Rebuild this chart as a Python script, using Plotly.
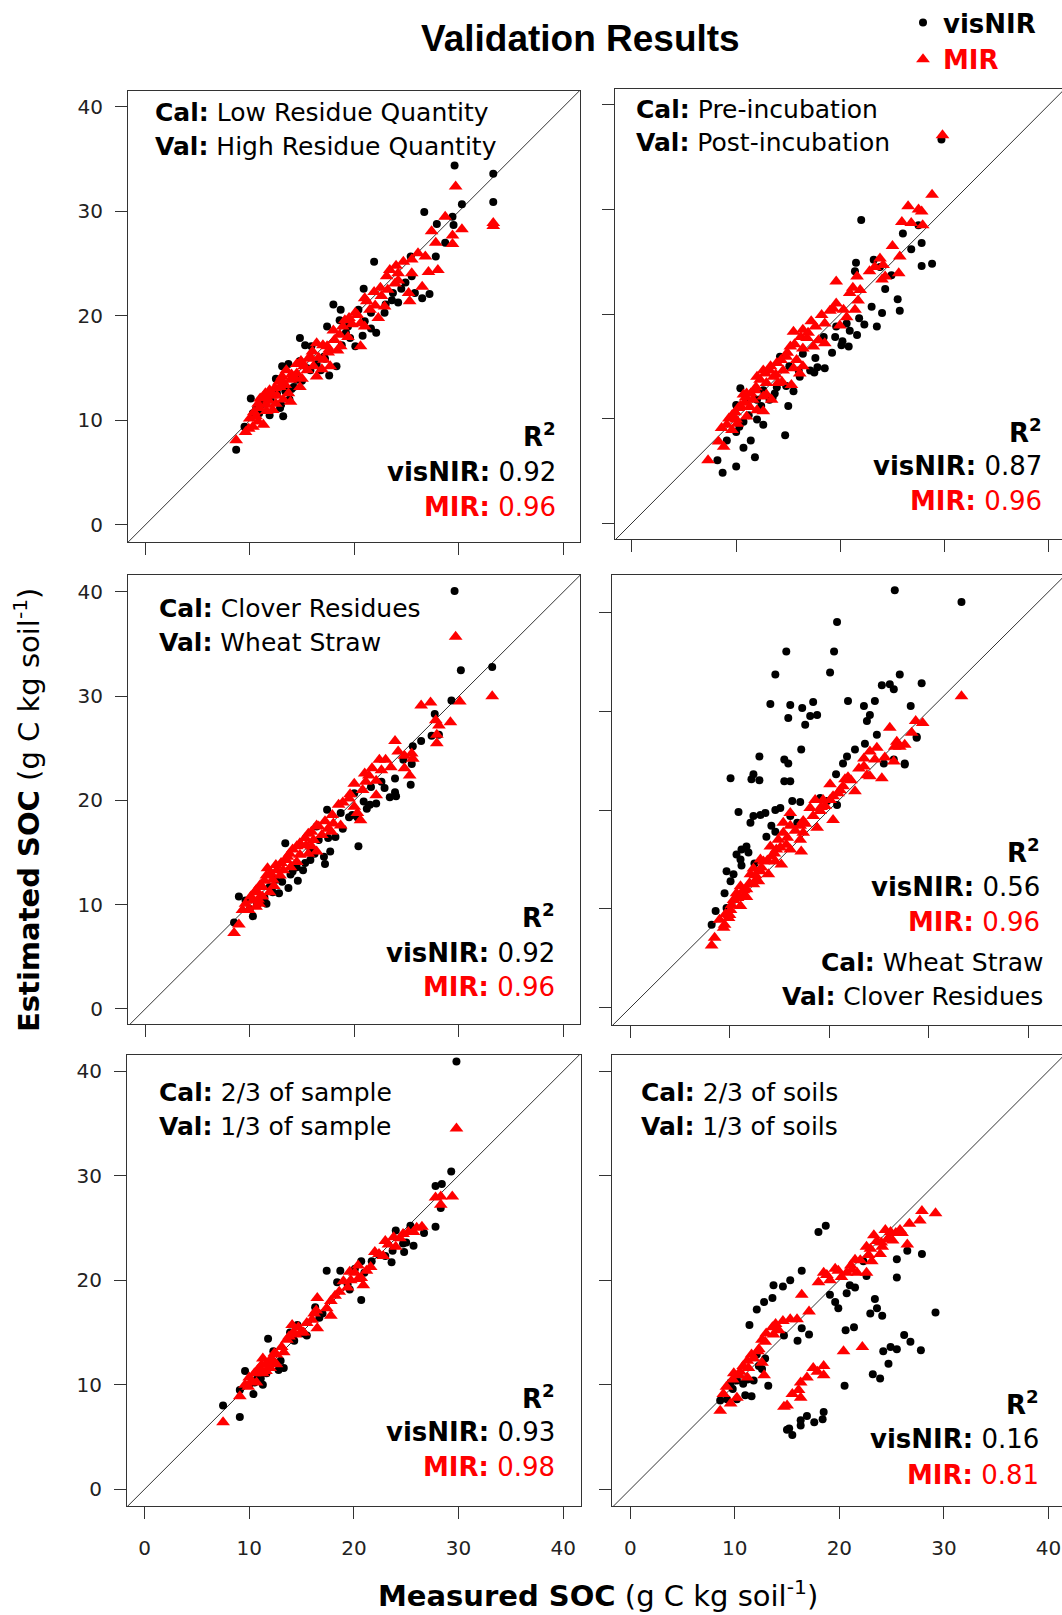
import plotly.graph_objects as go

# ---------------- data: (measured SOC, estimated SOC) ----------------
# Panel 1: Cal Low residue quantity / Val High residue quantity
p1_vis = [(29.6,34.4),(33.3,33.6),(33.3,30.9),(30.3,30.7),(26.7,29.95),(29.4,29.5),(27.9,28.8),(29.5,28.7),
          (28.7,27.0),(27.8,25.7),(25.4,25.7),(21.9,25.2),(20.9,22.6),(27.2,22.1),(26.5,21.7),(24.9,23.2),
          (24.2,21.3),(23.6,21.5),(22.9,20.3),(18.0,21.1),(18.7,20.6),(20.4,20.6),(18.6,19.6),(17.4,19.0),
          (22.1,18.4),(21.6,18.8),(20.8,18.1),(19.6,17.9),(20.1,17.1),(14.8,17.9),(15.3,17.2),(15.9,17.1),
          (14.8,15.7),(17.6,14.3),(18.3,15.2),(13.1,15.2),(13.7,15.4),(12.5,14.0),(10.1,12.1),(10.3,10.7),
          (13.2,10.4),(11.9,10.5),(13.8,12.0),(11.3,11.6),(9.5,9.4),(8.7,7.2),(16.4,15.4),(15.8,14.8),
          (14.5,13.9),(12.6,12.6),(11.6,12.4),(17.1,16.1),(19.4,19.0),(25.5,23.8),(25.8,22.2),(23.7,22.2),
          (21.6,20.3),(14.2,13.2),(10.9,10.7),(13.0,11.5),(10.6,11.1),(11.1,11.8),(12.0,12.0),(12.9,11.2),
          (13.4,12.8),(14.0,13.0),(15.0,13.8),(15.5,15.0),(16.8,14.8),(17.2,15.9),(18.8,17.2),(19.2,18.4),
          (21.0,19.5),(23.0,21.1),(24.5,22.6)]
p1_mir = [(29.7,32.4),(33.3,28.9),(33.3,28.6),(28.7,29.5),(30.3,28.3),(29.4,27.7),(29.4,26.9),(27.4,28.1),
          (27.8,27.0),(26.1,26.0),(26.8,25.7),(24.7,25.2),(25.5,25.4),(23.4,24.4),(23.1,23.8),(24.2,23.4),
          (25.5,24.1),(25.2,22.2),(25.3,21.4),(26.5,22.8),(27.1,24.2),(28.0,24.4),(21.9,22.3),(21.0,21.7),
          (22.6,21.9),(22.9,20.9),(22.3,19.8),(21.5,20.6),(20.3,20.1),(19.5,19.8),(18.9,19.0),(19.4,18.0),
          (20.6,17.1),(18.1,17.7),(18.4,16.7),(17.4,17.1),(16.4,17.4),(17.1,15.8),(17.7,15.2),(15.8,16.1),
          (15.5,14.8),(16.4,14.2),(14.5,14.5),(14.8,13.2),(13.9,13.9),(13.5,14.8),(12.9,13.2),(12.6,12.4),
          (11.9,12.9),(11.3,12.3),(11.6,11.5),(10.9,11.2),(10.6,10.4),(12.2,11.0),(13.2,12.0),(13.9,11.8),
          (11.3,9.6),(10.3,9.4),(9.6,8.9),(8.7,8.1),(14.5,15.4),(16.1,15.2),(18.7,17.1),(21.0,19.0),
          (23.9,23.1),(24.2,24.1),(10.0,10.2),(10.4,10.8),(10.8,11.6),(11.0,12.1),(11.5,12.6),(11.8,11.9),
          (12.1,12.4),(12.4,13.1),(12.8,13.7),(13.1,14.2),(13.4,13.4),(13.7,12.6),(14.0,14.4),(14.3,14.1),
          (14.9,15.7),(15.2,15.2),(15.6,15.9),(16.0,16.6),(16.6,16.0),(17.0,17.2),(17.5,16.5),(18.0,18.6),
          (18.6,18.2),(19.1,19.6),(19.8,19.2),(20.1,20.3),(20.6,19.3),(21.2,21.4),(22.0,21.0),(22.5,22.7),
          (23.2,22.5),(24.0,24.8),(9.9,9.2),(10.8,9.9),(11.6,10.9),(12.5,11.6),(13.0,13.9),(15.0,14.0),
          (16.9,14.9),(17.6,16.8)]

# Panel 2: Cal Pre-incubation / Val Post-incubation
p2_vis = [(29.7,36.7),(22.0,29.0),(28.8,24.8),(27.8,24.6),(27.8,26.8),(26.8,26.2),(26.0,27.7),(27.5,28.5),
          (21.5,24.9),(21.4,24.1),(25.5,21.4),(25.7,20.3),(24.0,20.1),(23.0,20.7),(23.5,18.8),(24.3,22.4),
          (24.9,23.7),(21.8,19.6),(21.6,18.0),(20.8,16.9),(20.1,17.0),(19.5,17.8),(20.9,18.4),(18.4,17.8),
          (18.5,14.8),(17.5,14.4),(17.1,14.6),(17.6,15.8),(16.4,16.2),(15.0,11.2),(14.7,8.4),(13.9,13.0),
          (13.7,12.4),(13.2,11.8),(12.6,9.4),(12.0,9.9),(11.4,7.9),(11.8,6.3),(10.7,7.2),(10.0,5.4),
          (8.7,4.8),(8.2,6.0),(9.1,7.9),(10.0,8.7),(10.4,12.9),(10.0,11.3),(11.0,11.8),(9.7,10.2),
          (10.7,9.7),(14.2,15.9),(15.1,15.0),(16.0,14.6),(12.6,12.7),(12.0,11.8),(20.6,19.1),(19.6,18.8),
          (23.2,25.2),(23.8,24.5),(12.4,11.2),(13.5,12.0),(14.8,13.1),(16.1,14.0),(17.8,14.9),(19.2,16.3),
          (20.2,17.4),(22.3,19.0),(11.2,10.3),(10.3,9.2),(15.5,12.6)]
p2_mir = [(29.8,37.1),(28.8,31.4),(26.5,30.3),(27.5,30.0),(27.8,29.8),(25.9,28.8),(26.8,28.7),(27.9,28.5),
          (25.0,26.5),(25.7,25.5),(23.8,25.3),(23.3,24.5),(24.1,24.7),(22.8,24.1),(24.3,23.6),(25.6,23.9),
          (24.0,23.3),(21.6,23.6),(19.6,23.1),(21.2,22.5),(21.9,22.3),(20.9,22.0),(21.7,21.3),(19.6,21.0),
          (19.3,20.5),(20.3,20.4),(21.4,20.4),(20.6,19.7),(19.95,18.9),(17.2,19.3),(18.5,19.1),(16.4,18.5),
          (15.5,18.3),(16.8,17.7),(17.9,17.5),(18.5,17.2),(17.4,16.9),(16.4,16.7),(15.2,16.9),(14.8,15.9),
          (15.8,15.6),(16.4,15.0),(16.1,14.3),(13.9,15.3),(13.2,14.6),(12.6,14.6),(12.0,14.0),(13.6,14.0),
          (14.5,14.6),(15.3,13.2),(14.4,13.5),(12.9,13.4),(11.8,12.7),(11.0,12.4),(12.6,12.1),(13.4,11.8),
          (11.6,11.8),(10.8,11.5),(10.2,11.0),(9.6,10.3),(12.0,10.8),(11.0,10.2),(10.0,9.9),(9.1,9.4),
          (8.6,9.1),(9.6,8.9),(8.3,7.8),(8.8,7.3),(7.3,6.0),(10.7,12.3),(12.6,10.7),(9.3,10.0),
          (9.9,10.6),(10.4,11.2),(10.9,12.0),(11.4,12.4),(11.9,13.0),(12.3,13.7),(12.8,14.3),(13.3,15.0),
          (13.8,14.2),(14.3,15.6),(14.9,16.3),(15.6,17.1),(16.2,17.8),(16.9,18.2),(17.6,18.8),(18.2,19.9),
          (19.0,20.3),(10.1,9.5),(11.3,11.1),(12.9,12.3),(14.0,13.4),(15.5,14.8)]

# Panel 3: Cal Clover residues / Val Wheat straw
p3_vis = [(29.6,40.1),(30.2,32.5),(33.2,32.8),(29.3,29.6),(27.7,28.3),(27.4,26.2),(26.4,25.7),(25.6,25.2),
          (25.5,23.5),(24.7,23.9),(25.4,21.5),(23.9,22.1),(23.9,20.8),(24.0,20.4),(23.4,20.3),(22.9,21.2),
          (22.6,21.8),(22.1,19.7),(21.5,19.6),(20.9,19.9),(20.3,18.4),(20.4,15.6),(19.5,18.4),(18.7,18.8),
          (17.4,19.1),(18.2,16.5),(17.7,15.1),(17.2,13.9),(17.1,14.6),(16.6,16.2),(13.4,15.9),(14.1,13.2),
          (14.6,12.3),(13.7,11.6),(12.8,11.1),(11.6,10.1),(11.1,10.4),(10.3,8.9),(9.6,10.4),(8.96,10.8),
          (8.5,8.3),(15.1,13.3),(15.8,14.3),(15.8,15.2),(11.9,11.7),(12.5,12.4),(14.5,13.6),(16.4,17.5),
          (20.0,20.7),(21.6,21.3),(28.1,26.3),(10.0,9.6),(10.7,10.0),(11.4,10.7),(12.2,11.2),(13.1,12.2),
          (13.9,12.9),(15.3,14.0),(16.2,14.9),(17.5,16.4),(18.9,17.3),(19.8,18.6),(21.2,19.2)]
p3_mir = [(29.7,35.7),(33.2,30.0),(30.1,29.5),(26.4,29.1),(27.3,29.4),(29.2,27.5),(27.8,27.7),(28.1,27.2),
          (27.9,26.3),(27.9,25.5),(23.9,25.7),(24.2,24.7),(25.5,24.5),(25.6,24.0),(24.8,24.3),(22.4,23.9),
          (23.0,23.9),(23.5,23.2),(22.6,22.9),(24.8,23.1),(25.3,22.4),(21.4,22.4),(21.1,21.8),(22.1,21.9),
          (20.0,21.6),(20.8,21.0),(22.1,20.5),(19.5,20.2),(20.0,19.4),(18.5,19.6),(20.3,18.8),(20.6,18.1),
          (18.7,17.6),(18.0,17.8),(17.5,17.3),(16.4,17.6),(16.9,16.7),(15.6,16.8),(16.1,16.2),(15.4,15.7),
          (14.5,15.6),(16.4,15.1),(15.6,14.9),(14.8,14.8),(13.8,14.9),(13.5,14.3),(14.5,14.1),(12.5,13.8),
          (11.7,13.5),(12.9,12.8),(11.6,12.8),(12.2,12.4),(11.2,11.7),(10.6,11.4),(11.9,11.2),(11.2,10.8),
          (10.3,10.4),(10.6,9.8),(9.9,9.5),(9.3,9.5),(8.96,8.1),(8.5,7.3),(10.9,10.1),(13.2,13.3),
          (9.6,10.1),(10.1,10.8),(10.5,11.2),(11.0,11.9),(11.4,12.3),(12.0,13.0),(12.6,13.3),(13.0,14.0),
          (13.6,14.6),(14.1,15.3),(14.8,15.9),(15.3,16.4),(15.9,17.0),(16.6,17.5),(17.2,18.0),(17.9,18.6),
          (18.9,19.8),(19.6,20.6),(21.0,22.6),(21.7,23.1),(10.8,10.5),(12.3,11.8),(13.9,13.6),(15.9,15.6),
          (17.8,17.0)]

# Panel 4: Cal Wheat straw / Val Clover residues
p4_vis = [(26.6,42.2),(33.3,41.0),(20.8,39.0),(15.7,36.0),(20.5,36.0),(14.6,33.7),(20.1,33.9),(27.1,33.7),
          (25.3,32.6),(26.1,32.7),(26.5,32.2),(29.3,32.8),(14.1,30.7),(16.1,30.6),(17.3,30.3),(18.4,30.9),
          (18.8,29.6),(18.1,29.5),(15.9,29.3),(17.6,28.6),(21.9,31.0),(23.5,30.5),(24.6,31.0),(24.1,29.6),
          (23.8,29.0),(28.2,30.5),(24.8,27.6),(28.8,27.3),(23.6,26.7),(22.6,26.1),(21.8,25.4),(21.4,24.7),
          (20.7,23.6),(26.5,25.1),(27.6,24.6),(25.5,24.7),(17.2,26.1),(13.0,25.4),(15.5,25.1),(15.9,24.7),
          (10.1,23.2),(12.4,23.6),(12.2,23.1),(13.0,23.0),(15.5,22.9),(16.1,22.9),(16.3,20.9),(17.1,20.8),
          (10.9,19.8),(12.1,18.7),(12.4,19.4),(13.1,19.5),(13.6,19.7),(14.6,20.0),(15.1,20.2),(14.2,18.4),
          (14.6,17.8),(13.7,17.3),(11.7,16.3),(11.2,16.0),(10.7,15.5),(11.9,15.7),(11.1,15.0),(11.2,14.4),
          (12.5,14.6),(9.7,13.8),(10.4,13.5),(10.1,12.8),(9.5,11.6),(9.7,10.1),(8.6,9.8),(8.2,8.4),
          (19.1,21.2),(19.8,20.9),(20.8,20.5),(28.8,27.4),(27.6,24.7),(16.1,19.4),(16.8,18.7)]
p4_mir = [(33.3,31.5),(29.4,28.8),(28.7,29.0),(26.1,28.3),(28.3,27.8),(26.8,26.9),(27.6,26.6),(26.6,26.4),
          (27.1,26.4),(24.8,26.3),(24.1,25.9),(23.5,25.2),(24.6,25.1),(25.6,25.3),(26.5,24.9),(23.5,24.4),
          (24.1,23.4),(25.3,23.2),(23.8,23.5),(21.9,23.3),(20.1,22.6),(21.4,22.4),(21.6,23.1),(22.6,21.9),
          (20.9,21.7),(20.1,21.0),(19.4,21.0),(18.6,21.0),(19.6,20.4),(19.1,19.9),(18.1,20.2),(20.4,19.0),
          (18.8,18.2),(17.4,18.9),(16.1,19.7),(17.1,18.4),(17.4,17.7),(17.1,17.0),(16.1,18.4),(15.4,18.7),
          (15.4,17.7),(15.7,16.5),(16.1,16.0),(17.2,15.8),(14.9,17.0),(14.1,16.3),(14.7,16.0),(14.2,15.3),
          (15.2,14.5),(14.6,14.8),(13.4,14.8),(13.1,13.8),(13.9,13.5),(12.7,13.0),(12.1,13.5),(12.4,12.5),
          (11.7,12.0),(11.1,12.3),(10.7,11.6),(11.4,11.3),(10.4,10.9),(11.1,10.3),(10.1,9.9),(9.9,9.1),
          (9.5,8.4),(9.4,8.1),(8.5,7.1),(8.2,6.3),(12.4,14.1),(13.1,15.0),(9.0,8.9),(9.6,9.5),
          (10.2,10.4),(10.8,11.1),(11.4,11.9),(12.0,12.6),(12.6,13.4),(13.2,14.2),(13.8,14.9),(14.5,15.6),
          (15.1,16.2),(15.8,17.2),(16.6,17.9),(17.6,18.6),(18.4,19.4),(19.2,20.3),(20.4,21.4),(21.1,22.0),
          (22.2,23.0),(23.0,24.2),(10.0,9.4),(11.7,11.2),(12.9,12.8)]

# Panel 5: Cal 2/3 of sample / Val 1/3 of sample
p5_vis = [(29.8,40.9),(29.3,30.4),(27.8,29.0),(28.4,29.2),(28.3,26.9),(27.8,25.1),(26.7,24.5),(25.7,23.3),
          (25.4,25.2),(24.8,22.7),(24.7,23.5),(24.0,24.75),(23.6,21.7),(23.0,22.3),(20.7,21.8),(20.7,18.1),
          (17.4,20.9),(18.7,20.9),(18.4,19.8),(19.4,19.6),(16.3,17.4),(16.7,16.4),(15.5,14.7),(14.6,15.7),
          (11.8,14.4),(13.3,11.6),(13.0,12.3),(12.1,12.1),(9.6,11.3),(10.4,9.1),(9.1,9.5),(7.5,8.0),
          (9.1,6.9),(11.3,10.0),(10.7,10.5),(11.65,11.1),(12.3,13.2),(13.9,15.0),(20.1,21.1),(21.7,21.8),
          (22.3,22.5),(10.0,10.0),(10.5,10.2),(11.1,10.6),(12.8,11.4),(14.3,14.2),(15.2,14.9),(17.0,16.8),
          (19.6,19.1),(21.0,20.7),(23.7,22.8),(25.0,23.6)]
p5_mir = [(29.8,34.5),(29.4,28.0),(28.3,28.0),(27.8,27.9),(28.3,27.2),(26.5,25.1),(25.7,24.6),(24.7,24.4),
          (23.8,24.1),(23.0,23.75),(24.0,23.2),(22.8,22.3),(22.0,22.7),(21.6,21.25),(20.4,21.4),(20.1,20.7),
          (20.7,20.2),(19.7,20.0),(20.9,19.5),(19.4,19.3),(18.6,18.9),(17.8,18.0),(17.8,16.6),(16.5,18.3),
          (16.2,16.8),(15.5,15.9),(16.5,15.4),(14.7,15.5),(14.1,15.7),(14.2,15.0),(13.6,14.3),(13.1,13.6),
          (12.6,12.9),(12.1,12.5),(11.65,12.0),(11.3,12.5),(11.0,11.6),(10.5,11.1),(10.0,10.7),(11.3,11.1),
          (10.7,10.2),(9.9,9.8),(9.1,8.9),(7.5,6.4),(12.0,11.6),(12.6,11.96),(14.9,15.0),(9.6,10.0),
          (10.2,10.3),(10.8,11.4),(11.2,11.9),(11.6,11.3),(12.2,12.1),(12.4,13.0),(13.3,13.1),(13.8,14.6),
          (14.4,14.8),(15.2,15.0),(16.0,16.2),(16.4,17.1),(17.4,17.3),(18.2,18.5),(19.0,19.9),(19.6,20.8),
          (20.4,20.1),(21.2,20.9),(22.4,22.5),(23.3,23.4),(24.4,24.0),(25.2,24.6),(26.0,25.0)]

# Panel 6: Cal 2/3 of soils / Val 1/3 of soils
p6_vis = [(18.0,24.6),(18.7,25.2),(16.4,20.9),(15.3,20.0),(14.6,19.4),(13.7,19.5),(13.6,18.3),(12.8,17.9),
          (12.1,17.2),(11.4,15.7),(14.7,14.7),(16.0,14.2),(17.1,14.8),(16.4,15.4),(19.1,18.6),(19.6,17.9),
          (19.9,17.3),(20.7,18.75),(21.5,19.3),(21.0,19.5),(20.6,15.2),(21.4,15.5),(23.4,18.2),(23.6,17.3),
          (24.1,16.6),(22.96,16.8),(22.6,20.4),(25.5,20.25),(25.5,22.0),(26.5,22.8),(27.9,22.5),(29.2,16.9),
          (26.2,14.75),(26.8,14.1),(27.8,13.3),(25.5,13.4),(24.9,13.6),(24.2,13.2),(24.7,12.0),(23.2,11.0),
          (23.9,10.6),(20.5,9.9),(18.5,7.4),(18.4,6.7),(17.6,6.4),(16.9,7.0),(16.3,6.6),(16.3,6.1),
          (15.2,5.8),(15.5,5.2),(14.99,5.7),(13.2,9.9),(11.6,8.9),(11.0,9.0),(10.2,8.6),(9.25,8.6),
          (8.6,8.5),(9.6,10.2),(10.2,10.4),(11.2,10.5),(12.3,11.8),(12.9,12.5),(12.1,12.9),(22.3,21.8),
          (10.8,10.1),(11.8,10.4),(12.6,11.5),(9.8,9.6)]
p6_mir = [(29.2,26.4),(27.9,26.6),(27.7,25.7),(26.7,25.4),(26.5,23.4),(26.0,24.5),(25.4,24.5),(24.9,24.6),
          (24.6,23.9),(24.1,23.2),(24.4,24.8),(23.6,23.75),(22.97,23.0),(22.6,23.2),(23.9,22.5),(23.1,21.8),
          (22.6,20.7),(21.5,21.96),(21.1,21.4),(21.7,20.7),(20.7,20.7),(19.9,20.9),(19.6,21.1),(18.8,20.5),
          (18.5,20.7),(18.0,19.8),(19.1,20.0),(16.4,18.6),(17.1,17.0),(15.95,16.25),(15.3,16.25),(14.6,16.1),
          (13.6,15.5),(13.7,14.8),(12.9,14.1),(12.3,13.4),(11.8,12.5),(11.2,12.3),(12.6,12.1),(11.3,11.6),
          (10.5,11.25),(9.9,11.1),(12.8,10.9),(11.2,10.7),(10.2,8.75),(8.9,9.1),(9.6,8.2),(8.6,7.5),
          (20.4,13.2),(22.2,13.6),(18.5,11.8),(17.5,11.6),(16.9,10.7),(16.3,10.2),(16.1,9.5),(15.5,9.1),
          (16.3,8.75),(15.0,8.0),(14.7,7.9),(18.5,10.9),(17.9,11.25),(9.2,9.8),(9.8,10.5),(10.4,10.9),
          (10.8,11.8),(11.6,12.9),(12.2,13.2),(12.6,14.3),(13.0,14.9),(13.9,15.8),(14.2,15.2),(22.0,21.9),
          (22.8,22.4),(23.3,24.3),(24.0,23.6),(24.7,24.0),(25.1,23.8),(25.8,24.8),(21.2,21.0),(20.2,20.3)]

cal_labels = ["Low Residue Quantity", "Pre-incubation", "Clover Residues",
              "Wheat Straw", "2/3 of sample", "2/3 of soils"]
val_labels = ["High Residue Quantity", "Post-incubation", "Wheat Straw",
              "Clover Residues", "1/3 of sample", "1/3 of soils"]
r2_visnir = ["0.92", "0.87", "0.92", "0.56", "0.93", "0.16"]
r2_mir = ["0.96", "0.96", "0.96", "0.96", "0.98", "0.81"]
tick_vals = [0, 10, 20, 30, 40]
tick_text = ["0", "10", "20", "30", "40"]

vis_data = [p1_vis, p2_vis, p3_vis, p4_vis, p5_vis, p6_vis]
mir_data = [p1_mir, p2_mir, p3_mir, p4_mir, p5_mir, p6_mir]

# ---------------- geometry (window pixels; body margin removed in the page) ----------------
W, H = 1062, 1615
FONT = "DejaVu Sans"
TFONT = "Liberation Sans, Arial"
RED = "#ff0000"
LINE = "#333333"


def fx(p):
    return p / W


def fy(p):
    return 1 - p / H


panels = [
    dict(xd=(128, 580), yd=(91, 542), xr=(-1.65, 41.6), yr=(-1.63, 41.53), left=True, bottom=False),
    dict(xd=(615, 1062), yd=(89, 539), xr=(-1.63, 41.27), yr=(-1.53, 41.53), left=False, bottom=False),
    dict(xd=(128, 580), yd=(575, 1024), xr=(-1.65, 41.6), yr=(-1.44, 41.63), left=True, bottom=False),
    dict(xd=(612, 1062), yd=(575, 1025), xr=(-1.81, 43.4), yr=(-1.72, 43.74), left=False, bottom=False),
    dict(xd=(127, 581), yd=(1055, 1506), xr=(-1.68, 41.7), yr=(-1.6, 41.53), left=True, bottom=True),
    dict(xd=(612, 1062), yd=(1055, 1506), xr=(-1.75, 41.3), yr=(-1.6, 41.53), left=False, bottom=True),
]

cal_pos = [(153, 112, 146), (634, 109, 142), (157, 609, 642), None, (157, 1092, 1126), (639, 1092, 1126)]
r2_pos = [(558, 435, 472, 507), (1044, 431, 466, 501), (557, 916, 953, 987),
          (1042, 851, 887, 922), (557, 1397, 1432, 1467), (1041, 1403, 1439, 1475)]
calval_right_p4 = (1045, 962, 996)

fig = go.Figure()
layout = dict()
annotations = []


def ann(x, y, text, size, color="black", xanchor="left", family=FONT, **kw):
    d = dict(x=fx(x), y=fy(y), xref="paper", yref="paper", xanchor=xanchor, yanchor="middle",
             showarrow=False, text=text, font=dict(family=family, size=size, color=color))
    d.update(kw)
    annotations.append(d)


for i, pnl in enumerate(panels):
    n = "" if i == 0 else str(i + 1)
    xa, ya = "x" + n, "y" + n
    fig.add_trace(go.Scatter(x=[-10, 60], y=[-10, 60], mode="lines",
                             line=dict(color=LINE, width=1), xaxis=xa, yaxis=ya,
                             showlegend=False, hoverinfo="skip"))
    vx = [p[0] for p in vis_data[i]]
    vy = [p[1] for p in vis_data[i]]
    mx = [p[0] for p in mir_data[i]]
    my = [p[1] for p in mir_data[i]]
    fig.add_trace(go.Scatter(x=vx, y=vy, mode="markers", name="<b>visNIR</b>",
                             marker=dict(symbol="circle", size=8, color="black"),
                             xaxis=xa, yaxis=ya, showlegend=(i == 0), legendrank=1))
    fig.add_trace(go.Scatter(x=mx, y=my, mode="markers",
                             name="<span style='color:#ff0000'><b>MIR</b></span>",
                             marker=dict(symbol="triangle-up", size=12, color=RED),
                             xaxis=xa, yaxis=ya, showlegend=(i == 0), legendrank=2))

    common = dict(showgrid=False, zeroline=False, showline=True, linecolor=LINE, linewidth=1,
                  ticks="outside", ticklen=12, tickwidth=1, tickcolor=LINE,
                  tickvals=tick_vals, ticktext=tick_text, ticklabeloverflow="allow",
                  tickfont=dict(family=FONT, size=20, color="#222222"))
    layout["xaxis" + n] = dict(common, domain=[fx(pnl["xd"][0]), fx(pnl["xd"][1])],
                               range=list(pnl["xr"]), anchor=ya, mirror=True,
                               showticklabels=pnl["bottom"], ticklabelstandoff=12)
    layout["yaxis" + n] = dict(common, domain=[fy(pnl["yd"][1]), fy(pnl["yd"][0])],
                               range=list(pnl["yr"]), anchor=xa, mirror=pnl["left"],
                               showticklabels=pnl["left"], ticklabelstandoff=8)

    if cal_pos[i] is not None:
        cx, cy1, cy2 = cal_pos[i]
        ann(cx, cy1, "<b>Cal:</b> " + cal_labels[i], 25)
        ann(cx, cy2, "<b>Val:</b> " + val_labels[i], 25)
    else:
        cx, cy1, cy2 = calval_right_p4
        ann(cx, cy1, "<b>Cal:</b> " + cal_labels[i], 25, xanchor="right")
        ann(cx, cy2, "<b>Val:</b> " + val_labels[i], 25, xanchor="right")
    rx, ry0, ry1, ry2 = r2_pos[i]
    ann(rx, ry0, "<b>R<sup>2</sup></b>", 26, xanchor="right")
    ann(rx, ry1, "<b>visNIR:</b> " + r2_visnir[i], 26, xanchor="right")
    ann(rx, ry2, "<b>MIR:</b> " + r2_mir[i], 26, color=RED, xanchor="right")

ann(580, 39, "<b>Validation Results</b>", 37, xanchor="center", family=TFONT)
ann(598, 1594, "<b>Measured SOC</b> (g C kg soil<sup>-1</sup>)", 29, xanchor="center")
ann(27, 810, "<b>Estimated SOC</b> (g C kg soil<sup>-1</sup>)", 29, xanchor="center", textangle=-90)

fig.update_layout(**layout)
fig.update_layout(
    width=W, height=H,
    margin=dict(l=0, r=0, t=0, b=0, pad=0, autoexpand=False),
    paper_bgcolor="white", plot_bgcolor="white",
    annotations=annotations,
    showlegend=True,
    hovermode=False,
    legend=dict(x=fx(903), y=fy(-1), xanchor="left", yanchor="top",
                bgcolor="rgba(0,0,0,0)", borderwidth=0, tracegroupgap=0,
                font=dict(family=FONT, size=26, color="black")),
)

fig.write_html(
    "out.html",
    config={"displayModeBar": False, "staticPlot": True},
    post_script="document.body.style.margin='0px';"
                "document.documentElement.style.overflow='hidden';"
                "document.body.style.overflow='hidden';",
)
